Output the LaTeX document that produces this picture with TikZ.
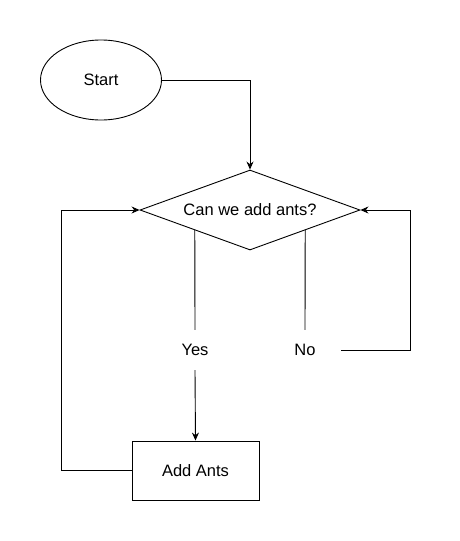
\documentclass[tikz,border=0pt]{standalone}
\usepackage{fontspec}
\setmainfont{Liberation Sans}
\usetikzlibrary{shapes.geometric,arrows.meta,calc}
\begin{document}
\begin{tikzpicture}[x=1pt,y=-1pt,
  every node/.style={font=\fontsize{16.5}{20}\selectfont, inner sep=0pt},
  line/.style={draw=black, line width=0.9pt},
  arr/.style={line, -{Stealth[length=8pt,width=7pt]}},
  startshape/.style={ellipse, draw=black, line width=0.9pt, minimum width=121pt, minimum height=80pt},
  decide/.style={diamond, draw=black, line width=0.9pt, minimum width=220pt, minimum height=80pt, aspect=2.75},
  procbox/.style={rectangle, draw=black, line width=0.9pt, minimum width=127pt, minimum height=59pt},
  lbl/.style={minimum height=40pt}
]
\useasboundingbox (0,0) rectangle (459,541);
\node[startshape] (start) at (101,80) {Start};
\node[decide] (dmd) at (250,210) {Can we add ants?};
\node[procbox] (box) at (195.5,470.5) {Add Ants};
\node[lbl, minimum width=30pt] (yes) at (195,350) {Yes};
\node[lbl, minimum width=72pt] (no) at (305,350) {No};
\coordinate (sw) at ($(dmd.west)!0.5!(dmd.south)$);
\coordinate (se) at ($(dmd.east)!0.5!(dmd.south)$);
\coordinate (rc) at (410,350);
\coordinate (lc) at (61,470.5);
\draw[arr] (start.east) -| (dmd.north);
\draw[line] (sw) -- (yes.north);
\draw[arr] (yes.south) -- (box.north);
\draw[line] (se) -- (no.north);
\draw[arr] (no.east) -- (rc) |- (dmd.east);
\draw[arr] (box.west) -- (lc) |- (dmd.west);
\end{tikzpicture}
\end{document}
